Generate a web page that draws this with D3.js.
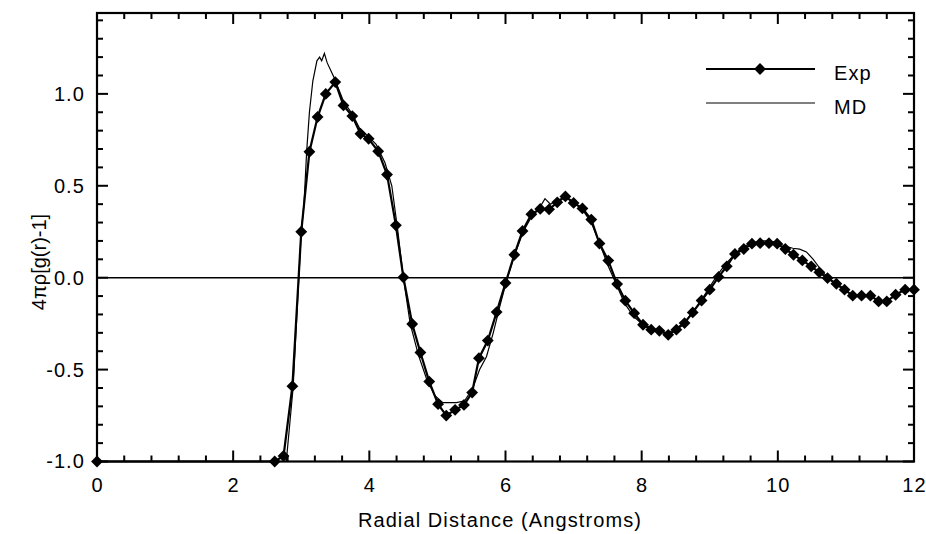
<!DOCTYPE html>
<html>
<head>
<meta charset="utf-8">
<script src="https://cdn.jsdelivr.net/npm/d3@7"></script>
<style>
  body { margin: 0; background: #fff; }
  svg text { font-family: "Liberation Sans", Arial, Helvetica, sans-serif; fill: #000; }
</style>
</head>
<body>
<div id="chart"></div>
<script>
// experimental curve (diamonds)
const expR = [0, 2.61, 2.74, 2.87, 3.00, 3.12, 3.24, 3.36, 3.50, 3.62, 3.75, 3.87, 3.99, 4.13, 4.26,
  4.39, 4.50, 4.63, 4.75, 4.88, 5.01, 5.13, 5.26, 5.39, 5.51, 5.61, 5.74, 5.87, 6.00, 6.13, 6.25,
  6.38, 6.51, 6.64, 6.76, 6.88, 7.00, 7.13, 7.26, 7.38, 7.51, 7.64, 7.76, 7.89, 8.02, 8.14, 8.26,
  8.39, 8.51, 8.63, 8.75, 8.88, 9.00, 9.13, 9.25, 9.37, 9.50, 9.62, 9.74, 9.87, 9.99, 10.11, 10.23,
  10.36, 10.49, 10.61, 10.73, 10.86, 10.98, 11.10, 11.23, 11.36, 11.48, 11.60, 11.73, 11.87, 12.00];
const expV = [-1.0, -1.0, -0.97, -0.59, 0.25, 0.685, 0.874, 1.00, 1.064, 0.937, 0.879, 0.783, 0.756, 0.688, 0.561,
  0.285, 0.002, -0.252, -0.407, -0.565, -0.688, -0.750, -0.719, -0.692, -0.625, -0.438, -0.342, -0.187, -0.029, 0.125, 0.254,
  0.345, 0.374, 0.372, 0.41, 0.442, 0.407, 0.377, 0.316, 0.186, 0.093, -0.035, -0.125, -0.193, -0.256, -0.283, -0.289,
  -0.311, -0.283, -0.247, -0.189, -0.124, -0.065, 0.004, 0.062, 0.129, 0.156, 0.185, 0.188, 0.188, 0.185, 0.156, 0.125,
  0.094, 0.062, 0.029, -0.002, -0.033, -0.065, -0.098, -0.098, -0.098, -0.129, -0.129, -0.093, -0.065, -0.065];

// simulation curve (thin line)
const mdR = [0, 2.78, 2.88, 3.00, 3.04, 3.08, 3.12, 3.17, 3.23, 3.27, 3.30, 3.34, 3.38, 3.48, 3.62, 3.75,
  3.86, 3.98, 4.10, 4.23, 4.33, 4.42, 4.50, 4.60, 4.72, 4.84, 4.96, 5.08, 5.18, 5.28, 5.40, 5.52, 5.62,
  5.72, 5.82, 5.92, 6.02, 6.14, 6.26, 6.38, 6.50, 6.58, 6.66, 6.76, 6.88, 7.00, 7.13, 7.26, 7.38, 7.50,
  7.62, 7.75, 7.88, 8.00, 8.13, 8.26, 8.38, 8.50, 8.63, 8.75, 8.88, 9.00, 9.12, 9.25, 9.37, 9.50, 9.62,
  9.75, 9.87, 10.00, 10.12, 10.22, 10.32, 10.42, 10.52, 10.62, 10.73, 10.86, 11.00];
const mdV = [-1.0, -1.0, -0.6, 0.25, 0.40, 0.69, 0.90, 1.07, 1.18, 1.20, 1.18, 1.22, 1.17, 1.09, 0.96, 0.89,
  0.81, 0.77, 0.725, 0.625, 0.50, 0.25, 0.0, -0.25, -0.42, -0.55, -0.64, -0.68, -0.68, -0.68, -0.67, -0.60, -0.50,
  -0.43, -0.30, -0.15, -0.01, 0.13, 0.25, 0.33, 0.38, 0.43, 0.40, 0.42, 0.44, 0.41, 0.37, 0.30, 0.19, 0.07,
  -0.03, -0.14, -0.21, -0.25, -0.27, -0.29, -0.30, -0.28, -0.24, -0.19, -0.12, -0.05, 0.02, 0.08, 0.13, 0.17, 0.19,
  0.20, 0.20, 0.19, 0.17, 0.16, 0.155, 0.14, 0.10, 0.05, 0.00, -0.04, -0.07];

const xTicks = [0, 2, 4, 6, 8, 10, 12];
const yTicks = [-1.0, -0.5, 0.0, 0.5, 1.0];
const yTickLabels = ["-1.0", "-0.5", "0.0", "0.5", "1.0"];
const seriesNames = ["Exp", "MD"];

const W = 926, H = 534;
const plotL = 97, plotR = 914, plotT = 13, plotB = 461.5;
const fontPx = "20px", spacing = "1.1px";

const svg = d3.select("#chart")
  .append("svg")
  .attr("width", W)
  .attr("height", H);

const x = d3.scaleLinear().domain([0, 12]).range([plotL, plotR]);
const y = d3.scaleLinear().domain([-1, 1.44]).range([plotB, plotT]);

const xMinor = d3.range(0, 12.001, 0.4).filter(v => Math.abs(v / 2 - Math.round(v / 2)) > 1e-6);
const yMinor = d3.range(-1, 1.441, 0.1).filter(v => Math.abs(v * 2 - Math.round(v * 2)) > 1e-6);

// inward tick marks on all four sides
const tickG = svg.append("g").attr("stroke", "#000").attr("stroke-width", 2);
const xTickSet = xTicks.map(v => [v, 11]).concat(xMinor.map(v => [v, 6]));
const yTickSet = yTicks.map(v => [v, 11]).concat(yMinor.map(v => [v, 6]));

tickG.selectAll(".xb").data(xTickSet).join("line").attr("class", "xb")
  .attr("x1", d => x(d[0])).attr("x2", d => x(d[0]))
  .attr("y1", plotB).attr("y2", d => plotB - d[1]);
tickG.selectAll(".xt").data(xTickSet).join("line").attr("class", "xt")
  .attr("x1", d => x(d[0])).attr("x2", d => x(d[0]))
  .attr("y1", plotT).attr("y2", d => plotT + d[1]);
tickG.selectAll(".yl").data(yTickSet).join("line").attr("class", "yl")
  .attr("y1", d => y(d[0])).attr("y2", d => y(d[0]))
  .attr("x1", plotL).attr("x2", d => plotL + d[1]);
tickG.selectAll(".yr").data(yTickSet).join("line").attr("class", "yr")
  .attr("y1", d => y(d[0])).attr("y2", d => y(d[0]))
  .attr("x1", plotR).attr("x2", d => plotR - d[1]);

// tick labels via axes (no lines)
const xLab = svg.append("g")
  .attr("transform", `translate(0,${plotB})`)
  .call(d3.axisBottom(x).tickValues(xTicks).tickSize(0).tickPadding(16).tickFormat(d3.format("d")));
const yLab = svg.append("g")
  .attr("transform", `translate(${plotL},0)`)
  .call(d3.axisLeft(y).tickValues(yTicks).tickSize(0).tickPadding(12).tickFormat((d, i) => yTickLabels[i]));
[xLab, yLab].forEach(g => {
  g.select(".domain").remove();
  g.selectAll("line").remove();
  g.selectAll("text").style("font-size", fontPx).style("letter-spacing", spacing).attr("fill", "#000");
});

// frame
svg.append("rect")
  .attr("x", plotL).attr("y", plotT)
  .attr("width", plotR - plotL).attr("height", plotB - plotT)
  .attr("fill", "none").attr("stroke", "#000").attr("stroke-width", 2.2);

// zero line
svg.append("line")
  .attr("x1", x(0)).attr("x2", x(12))
  .attr("y1", y(0)).attr("y2", y(0))
  .attr("stroke", "#000").attr("stroke-width", 1.5);

const line = d3.line().x(d => x(d[0])).y(d => y(d[1]));
const expData = expR.map((r, i) => [r, expV[i]]);
const mdData = mdR.map((r, i) => [r, mdV[i]]);

svg.append("path")
  .attr("fill", "none").attr("stroke", "#000").attr("stroke-width", 1.2)
  .attr("d", line(mdData));

svg.append("path")
  .attr("fill", "none").attr("stroke", "#000").attr("stroke-width", 2.2)
  .attr("d", line(expData));

const diamond = d3.symbol().type(d3.symbolSquare).size(70);

svg.selectAll(".pt")
  .data(expData)
  .enter()
  .append("path")
  .attr("class", "pt")
  .attr("d", diamond)
  .attr("transform", d => `translate(${x(d[0])},${y(d[1])}) rotate(45)`)
  .attr("fill", "#000");

// axis titles
svg.append("text")
  .attr("x", 500)
  .attr("y", 527)
  .attr("text-anchor", "middle")
  .style("font-size", fontPx)
  .style("letter-spacing", spacing)
  .text("Radial Distance (Angstroms)");

svg.append("text")
  .attr("transform", "rotate(-90)")
  .attr("x", -262)
  .attr("y", 46)
  .attr("text-anchor", "middle")
  .style("font-size", fontPx)
  .text("4πρ[g(r)-1]");

// legend
const legend = svg.selectAll(".legend")
  .data(seriesNames)
  .enter()
  .append("g")
  .attr("class", "legend")
  .attr("transform", (d, i) => `translate(706,${69 + i * 34})`);

legend.append("line")
  .attr("x1", 0).attr("x2", 109)
  .attr("stroke", "#000")
  .attr("stroke-width", (d, i) => i === 0 ? 2.2 : 1.2);

legend.filter((d, i) => i === 0)
  .append("path")
  .attr("d", diamond)
  .attr("transform", "translate(54,0) rotate(45)")
  .attr("fill", "#000");

legend.append("text")
  .attr("x", 128)
  .attr("y", 11)
  .style("font-size", fontPx)
  .style("letter-spacing", spacing)
  .text(d => d);
</script>
</body>
</html>
